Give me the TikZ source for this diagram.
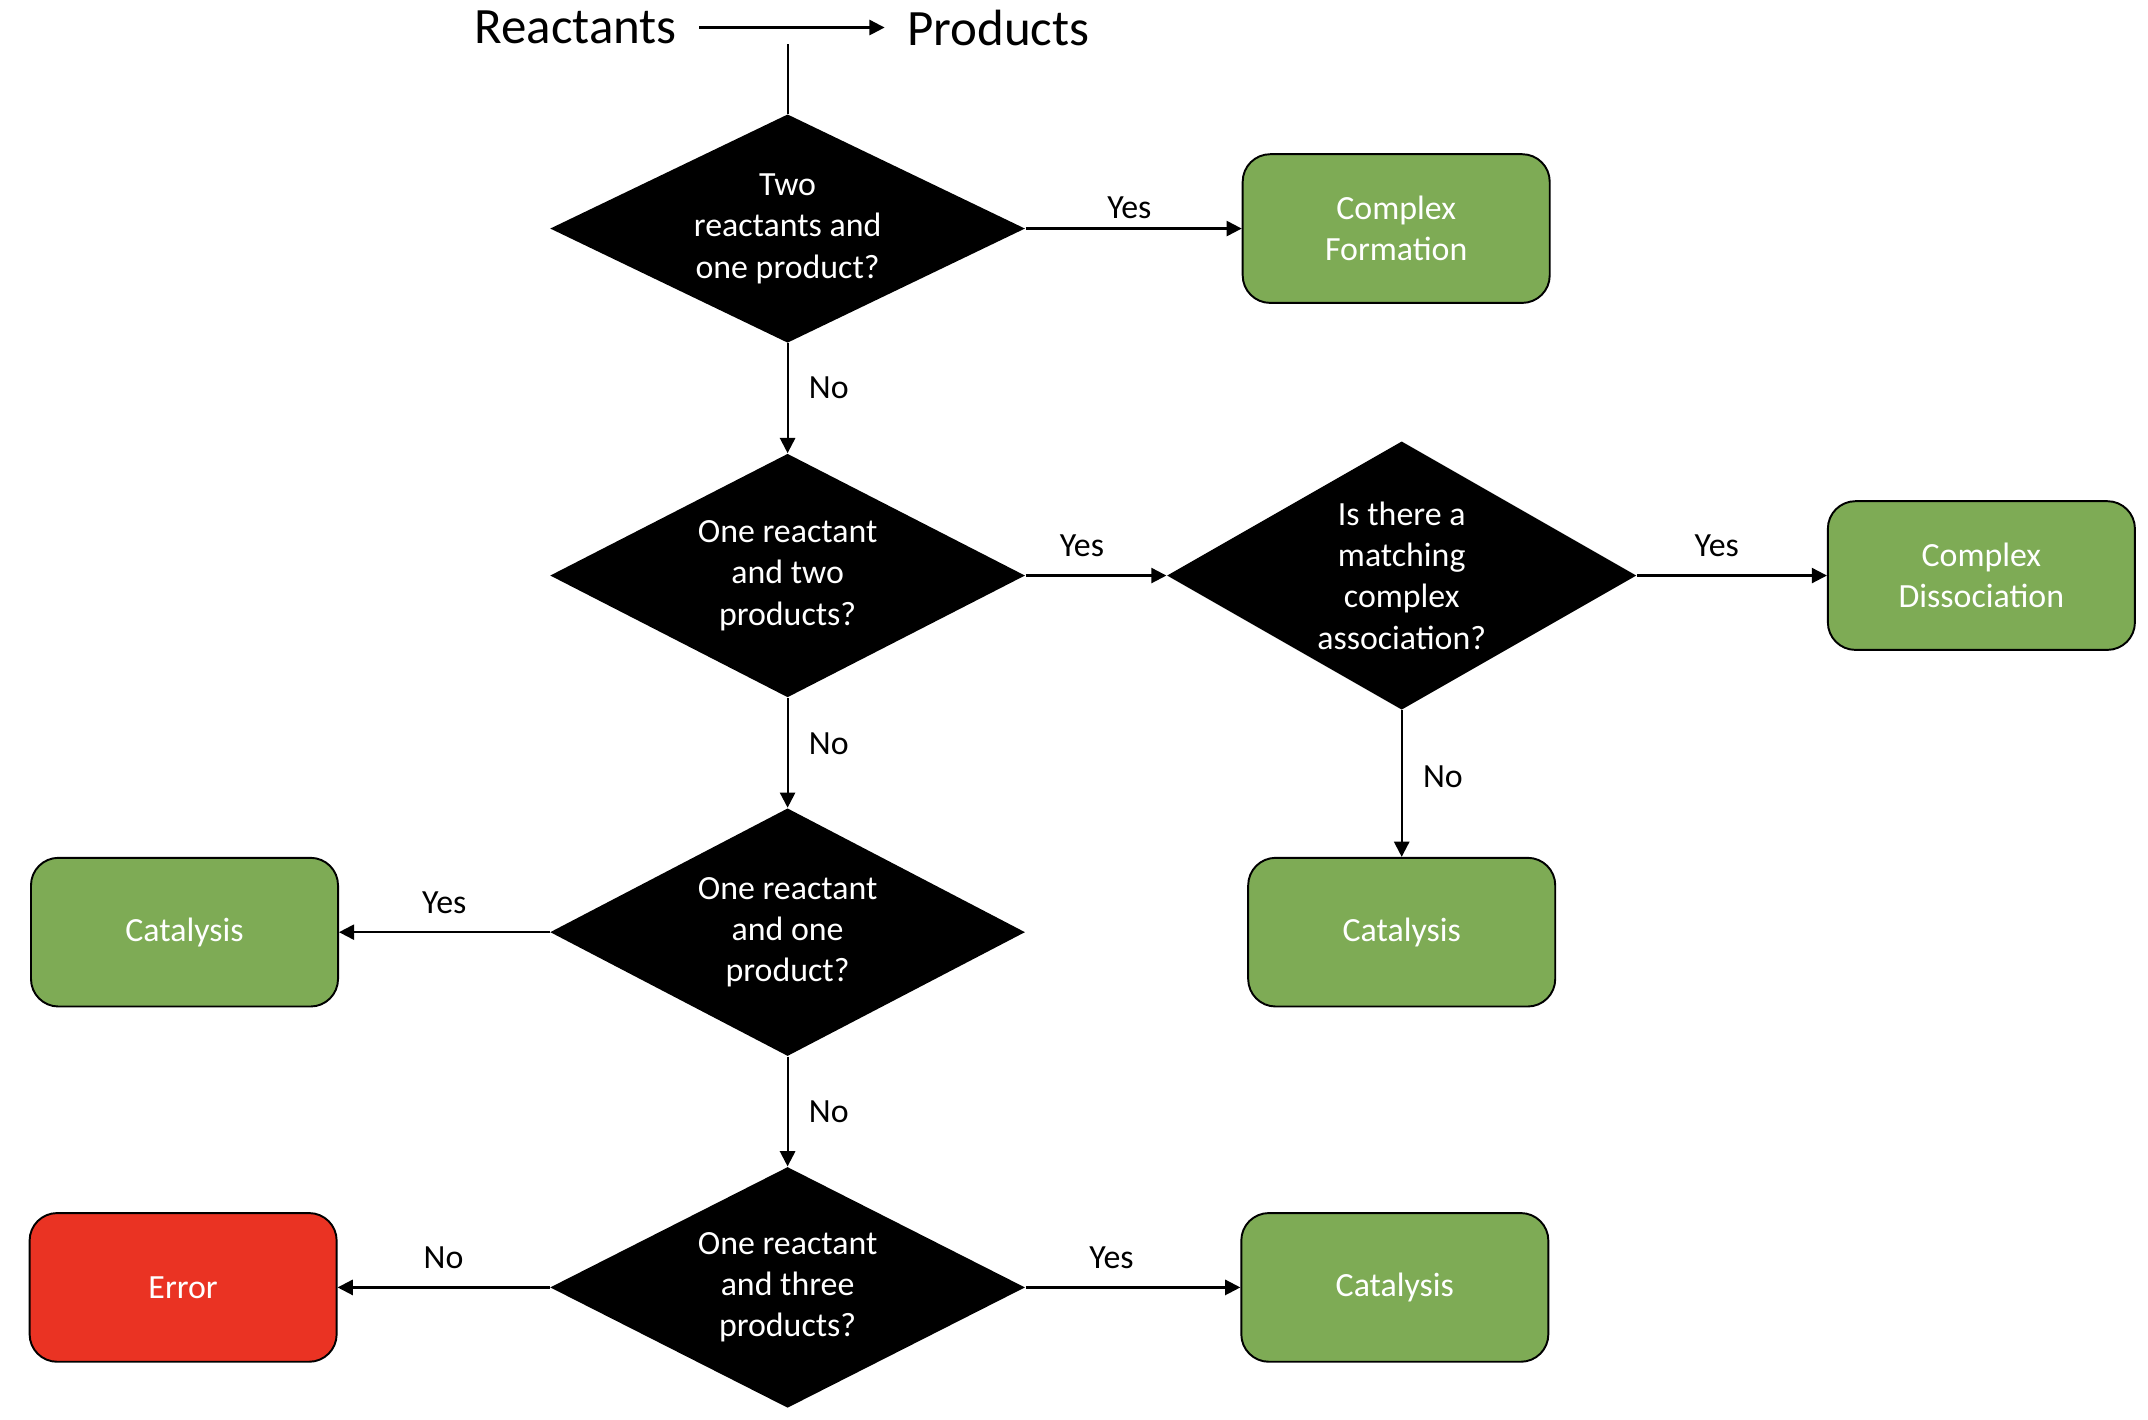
\documentclass[tikz,border=0pt]{standalone}
\usepackage{fontspec}
\setmainfont{Carlito}
\usetikzlibrary{arrows.meta,shapes.geometric}
\definecolor{boxgreen}{RGB}{126,171,85}
\definecolor{boxred}{RGB}{234,51,35}
\tikzset{
    question/.style={diamond, fill=black, text=white, align=center, inner sep=0pt,
        shape aspect=2, minimum width=172.5pt, font=\fontsize{12.3}{15}\selectfont},
    outcome/.style={rectangle, rounded corners=10pt, draw=black, line width=0.7pt,
        fill=boxgreen, text=white, align=center, minimum width=111.5pt,
        minimum height=54pt, font=\fontsize{12.3}{15}\selectfont},
    title/.style={inner sep=8pt, font=\fontsize{18.5}{22}\selectfont},
    answer/.style={font=\fontsize{12.3}{15}\selectfont},
    flow/.style={line width=0.8pt, -{Triangle[length=5.5pt,width=5.5pt]}}
}
\begin{document}
\begin{tikzpicture}[x=0.5pt, y=-0.5pt, line join=round]
    \useasboundingbox (0,0) rectangle (1560,1031);

    % reaction
    \node[title] (react) at (418,20) {Reactants};
    \node[title] (prod) at (725,20) {Products};
    \coordinate (start) at (572,32);
    % first question
    \node[question, minimum height=83pt] (q1) at (572,166) {Two\\reactants and\\one product?};
    \node[outcome] (form) at (1014,166) {Complex\\Formation};
    % second question
    \node[question, minimum height=88.5pt] (q2) at (572,418) {One reactant\\and two\\products?};
    \node[question, shape aspect=1.8, minimum width=170.5pt, minimum height=97.5pt] (q3) at (1018,418) {Is there a\\matching\\complex\\association?};
    \node[outcome] (dissoc) at (1439,418) {Complex\\Dissociation};
    \node[outcome] (catright) at (1018,677) {Catalysis};
    % third question
    \node[question, minimum height=90pt] (q4) at (572,677) {One reactant\\and one\\product?};
    \node[outcome] (catleft) at (134,677) {Catalysis};
    % fourth question
    \node[question, minimum height=87.5pt] (q5) at (572,935) {One reactant\\and three\\products?};
    \node[outcome, fill=boxred] (error) at (133,935) {Error};
    \node[outcome] (catlow) at (1013,935) {Catalysis};

    % connectors
    \draw[flow] (react) -- (prod);
    \draw[line width=0.8pt] (start) -- (q1.north);
    \draw[flow] (q1.east) -- node[answer, above, pos=0.48] {Yes} (form.west);
    \draw[flow] (q1.south) -- node[answer, right=4pt, pos=0.4] {No} (q2.north);
    \draw[flow] (q2.east) -- node[answer, above=3pt, pos=0.4] {Yes} (q3.west);
    \draw[flow] (q3.east) -- node[answer, above=3pt, pos=0.42] {Yes} (dissoc.west);
    \draw[flow] (q3.south) -- node[answer, right=4pt, pos=0.45] {No} (catright.north);
    \draw[flow] (q2.south) -- node[answer, right=4pt, pos=0.42] {No} (q4.north);
    \draw[flow] (q4.west) -- node[answer, above=3pt] {Yes} (catleft.east);
    \draw[flow] (q4.south) -- node[answer, right=4pt] {No} (q5.north);
    \draw[flow] (q5.west) -- node[answer, above=3pt] {No} (error.east);
    \draw[flow] (q5.east) -- node[answer, above=3pt, pos=0.4] {Yes} (catlow.west);

\end{tikzpicture}
\end{document}
